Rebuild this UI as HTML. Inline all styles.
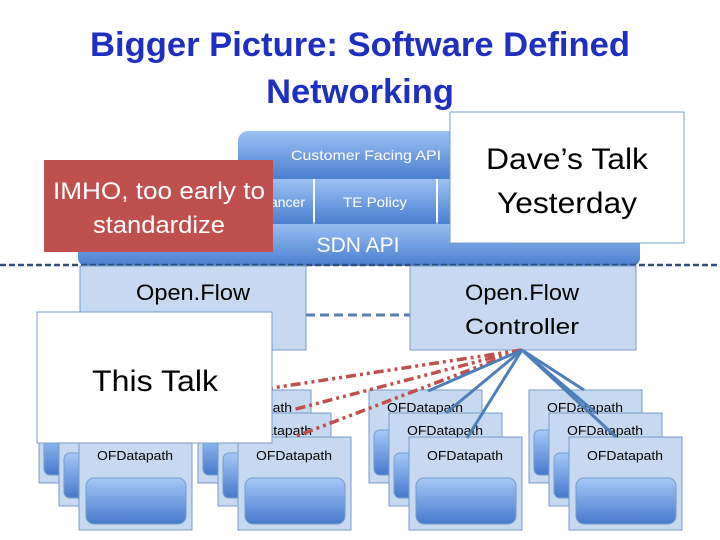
<!DOCTYPE html>
<html><head><meta charset="utf-8"><style>
html,body{margin:0;padding:0;background:#fff;}
svg{display:block;font-family:"Liberation Sans",sans-serif;}
</style></head><body>
<svg width="720" height="540" viewBox="0 0 720 540" xmlns="http://www.w3.org/2000/svg">
<defs>
<linearGradient id="bl" x1="0" y1="0" x2="0" y2="1">
<stop offset="0" stop-color="#9cc0f5"/><stop offset="1" stop-color="#4a7fcf"/></linearGradient>
<linearGradient id="ib" x1="0" y1="0" x2="0" y2="1">
<stop offset="0" stop-color="#a6c8f8"/><stop offset="1" stop-color="#4679cc"/></linearGradient>
<g id="grp">
<rect x="0" y="0" width="113" height="93" fill="#c6d9f1" stroke="#7a9cc8"/>
<rect x="5" y="40" width="20" height="45" rx="6" fill="url(#ib)" stroke="#7a9cc8"/>
<rect x="20" y="23" width="113" height="93" fill="#c6d9f1" stroke="#7a9cc8"/>
<rect x="25" y="63" width="20" height="45" rx="6" fill="url(#ib)" stroke="#7a9cc8"/>
<rect x="40" y="47" width="113" height="93" fill="#c6d9f1" stroke="#7a9cc8"/>
<rect x="47" y="88" width="100" height="46" rx="8" fill="url(#ib)" stroke="#7a9cc8"/>
<text x="56" y="22" text-anchor="middle" font-size="13" textLength="76" lengthAdjust="spacingAndGlyphs">OFDatapath</text>
<text x="76" y="45" text-anchor="middle" font-size="13" textLength="76" lengthAdjust="spacingAndGlyphs">OFDatapath</text>
<text x="96" y="70" text-anchor="middle" font-size="13" textLength="76" lengthAdjust="spacingAndGlyphs">OFDatapath</text>
</g>
</defs>
<text x="360" y="56" text-anchor="middle" font-size="34.5" font-weight="bold" fill="#1f2fbf" textLength="540" lengthAdjust="spacingAndGlyphs">Bigger Picture: Software Defined</text>
<text x="360" y="103" text-anchor="middle" font-size="34.5" font-weight="bold" fill="#1f2fbf">Networking</text>

<rect x="78" y="222" width="562" height="44" rx="8" fill="url(#bl)"/>
<rect x="238" y="131" width="402" height="48" rx="10" fill="url(#bl)"/>
<rect x="238" y="179" width="75" height="45" fill="url(#bl)"/>
<rect x="315" y="179" width="121" height="45" fill="url(#bl)"/>
<rect x="438" y="179" width="202" height="45" fill="url(#bl)"/>
<text x="366" y="160" text-anchor="middle" font-size="14" fill="#fff" textLength="150" lengthAdjust="spacingAndGlyphs">Customer Facing API</text>
<text x="305" y="207" text-anchor="end" font-size="14" fill="#fff">Load Balancer</text>
<text x="375" y="207" text-anchor="middle" font-size="14" fill="#fff" textLength="64" lengthAdjust="spacingAndGlyphs">TE Policy</text>
<text x="358" y="252" text-anchor="middle" font-size="21" fill="#fff">SDN API</text>

<line x1="0" y1="265" x2="720" y2="265" stroke="#2f4f7f" stroke-width="2.5" stroke-dasharray="6,3"/>

<rect x="80" y="266" width="226" height="84" fill="#c6d9f1" stroke="#7a9cc8"/>
<rect x="410" y="266" width="226" height="84" fill="#c6d9f1" stroke="#7a9cc8"/>
<text x="193" y="300" text-anchor="middle" font-size="22" textLength="114" lengthAdjust="spacingAndGlyphs">Open.Flow</text>
<text x="522" y="300" text-anchor="middle" font-size="22" textLength="114" lengthAdjust="spacingAndGlyphs">Open.Flow</text>
<text x="522" y="334" text-anchor="middle" font-size="22" textLength="114" lengthAdjust="spacingAndGlyphs">Controller</text>
<line x1="306" y1="315" x2="410" y2="315" stroke="#5a7fae" stroke-width="3" stroke-dasharray="9,5"/>

<use href="#grp" x="39" y="390"/>
<use href="#grp" x="198" y="390"/>
<use href="#grp" x="369" y="390"/>
<use href="#grp" x="529" y="390"/>

<g stroke="#c0504d" stroke-width="3.5" stroke-dasharray="10,4,3,4,3,4" fill="none">
<line x1="522" y1="350" x2="272" y2="388"/>
<line x1="522" y1="350" x2="292" y2="410"/>
<line x1="522" y1="350" x2="294" y2="437"/>
</g>
<g stroke="#4f7fb8" stroke-width="3" fill="none">
<line x1="522" y1="350" x2="428" y2="391"/>
<line x1="522" y1="350" x2="446" y2="413"/>
<line x1="522" y1="350" x2="467" y2="438"/>
<line x1="522" y1="350" x2="584" y2="390"/>
<line x1="522" y1="350" x2="596" y2="413"/>
<line x1="522" y1="350" x2="616" y2="437"/>
</g>

<rect x="37" y="312" width="235" height="131" fill="#fff" stroke="#7a9cc8"/>
<text x="155" y="391" text-anchor="middle" font-size="30" textLength="126" lengthAdjust="spacingAndGlyphs">This Talk</text>
<rect x="450" y="112" width="234" height="131" fill="#fff" stroke="#7a9cc8"/>
<text x="567" y="169" text-anchor="middle" font-size="30" textLength="162" lengthAdjust="spacingAndGlyphs">Dave’s Talk</text>
<text x="567" y="213" text-anchor="middle" font-size="30" textLength="140" lengthAdjust="spacingAndGlyphs">Yesterday</text>
<rect x="44" y="160" width="229" height="92" fill="#c0504d"/>
<text x="159" y="199" text-anchor="middle" font-size="24" fill="#fff" textLength="212" lengthAdjust="spacingAndGlyphs">IMHO, too early to</text>
<text x="159" y="233" text-anchor="middle" font-size="24" fill="#fff" textLength="132" lengthAdjust="spacingAndGlyphs">standardize</text>
</svg>
</body></html>
